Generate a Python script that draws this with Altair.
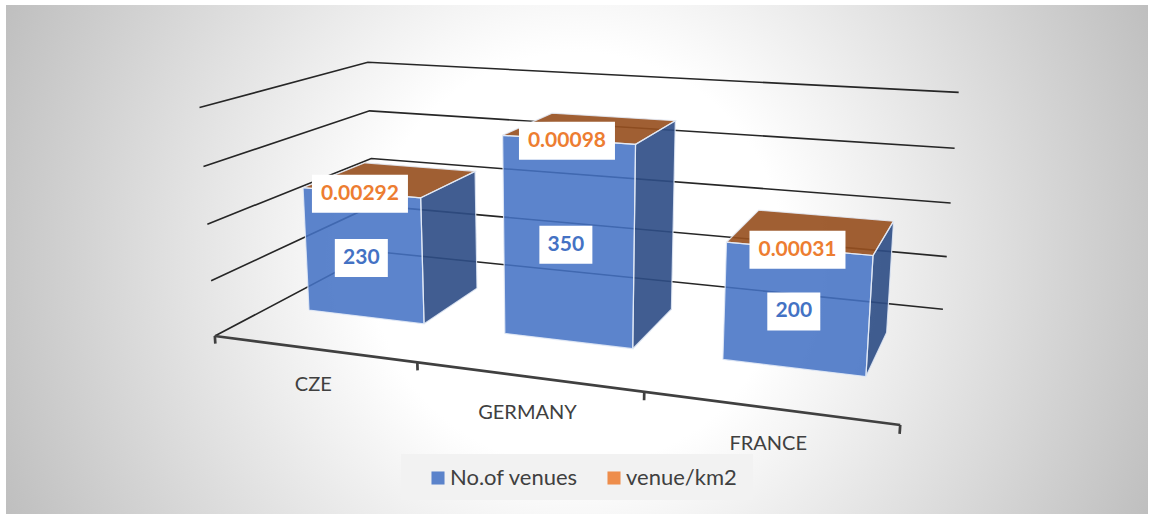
import altair as alt
import numpy as np
import pandas as pd

# Chart content
categories = ["CZE", "GERMANY", "FRANCE"]
venues = [230, 350, 200]
venues_per_km2 = ["0.00292", "0.00098", "0.00031"]
series = ["No.of venues", "venue/km2"]
series_colors = ["#4472C4", "#ED7D31"]
gridlines = [0, 100, 200, 300, 400]

# Scene geometry: u runs along the categories, d into the depth, h up the value axis
CAMERA = np.array([
    [540.2299, 241.4803, -23.7245, 214.8388],
    [20.4262, -29.6788, -233.0805, 336.0318],
    [-0.16123, 0.21812, -0.04214, 1.0],
])
H_MAX = 400
BAR_HALF_WIDTH = 0.1
BAR_DEPTH = (0.315, 0.71)
W, H = 1149, 514


def project(u, d, h):
    v = CAMERA @ np.array([u, d, h / H_MAX, 1.0])
    return float(v[0] / v[2]), float(v[1] / v[2])


def polygon_to_area(points):
    """Turn a convex polygon into x / y / y2 rows for an area mark."""
    rows = []
    edges = list(zip(points, points[1:] + points[:1]))
    for x in sorted({p[0] for p in points}):
        ys = []
        for (x0, y0), (x1, y1) in edges:
            if min(x0, x1) <= x <= max(x0, x1):
                if x0 == x1:
                    ys += [y0, y1]
                else:
                    ys.append(y0 + (y1 - y0) * (x - x0) / (x1 - x0))
        rows.append({"x": x, "y": min(ys), "y2": max(ys)})
    return rows


face_rows, shade_rows, edge_rows, box_rows, label_rows, cat_rows = [], [], [], [], [], []
for i, (cat, value, density) in enumerate(zip(categories, venues, venues_per_km2)):
    uc = (i + 0.5) / len(categories)
    u0, u1 = uc - BAR_HALF_WIDTH, uc + BAR_HALF_WIDTH
    d0, d1 = BAR_DEPTH
    faces = {
        "side": ([(u1, d0, 0), (u1, d1, 0), (u1, d1, value), (u1, d0, value)], series[0], 0.29),
        "front": ([(u0, d0, 0), (u1, d0, 0), (u1, d0, value), (u0, d0, value)], series[0], 0),
        "top": ([(u0, d0, value), (u1, d0, value), (u1, d1, value), (u0, d1, value)], series[1], 0.33),
    }
    for name, (corners, ser, shade) in faces.items():
        pts = [project(*c) for c in corners]
        key = f"{cat}-{name}"
        for row in polygon_to_area(pts):
            face_rows.append({**row, "face": key, "series": ser})
            if shade:
                shade_rows.append({**row, "face": key, "shade": shade})
        for k, p in enumerate(pts + pts[:1]):
            edge_rows.append({"x": p[0], "y": p[1], "face": key, "k": k})

    # Labels sit on the middle of the front face and on its top edge
    cx, cy = project(uc, d0, value / 2)
    cx, cy = cx - 2, cy + 2.5
    label_rows.append({"x": cx, "y": cy, "text": str(value), "series": series[0]})
    box_rows.append({"x": cx - 26.5, "x2": cx + 26.5, "y": cy - 19, "y2": cy + 19})
    tx, ty = project(uc, d0, value)
    tx, ty = tx - 1, ty + 1
    label_rows.append({"x": tx, "y": ty, "text": density, "series": series[1]})
    box_rows.append({"x": tx - 48, "x2": tx + 48, "y": ty - 19, "y2": ty + 19})

    ax, ay = project(uc, 0, 0)
    cat_rows.append({"x": ax, "y": ay, "text": cat})

grid_rows = []
for level in gridlines:
    for k, (u, d) in enumerate([(0, 0), (0, 1), (1, 1)]):
        x, y = project(u, d, level)
        grid_rows.append({"x": x, "y": y, "level": level, "k": k})

axis_rows = [dict(zip(("x", "y"), project(u, 0, 0)), k=k, tick="axis") for k, u in enumerate([0, 1])]
for n in range(4):
    for k, h in enumerate([0, -14]):
        axis_rows.append(dict(zip(("x", "y"), project(n / 3, 0, h)), k=k, tick=f"t{n}"))

sx = alt.Scale(domain=[0, W], range=[0, W], nice=False, zero=False)
sy = alt.Scale(domain=[0, H], range=[0, H], nice=False, zero=False)
X = alt.X("x:Q", scale=sx, axis=None)
Y = alt.Y("y:Q", scale=sy, axis=None)
Y_AREA = alt.Y("y:Q", scale=sy, axis=None, stack=None)

# Radial backdrop, built on a square so the gradient stays circular
backdrop = alt.Chart(pd.DataFrame([{"x": 3, "x2": 1152, "y": -315, "y2": 834}])).mark_rect(
    clip=True,
    fill={
        "gradient": "radial",
        "x1": 0.5, "y1": 0.5, "x2": 0.5, "y2": 0.5, "r1": 0, "r2": 0.6,
        "stops": [
            {"offset": 0, "color": "#ffffff"},
            {"offset": 0.3, "color": "#ffffff"},
            {"offset": 1, "color": "#b5b5b5"},
        ],
    },
).encode(x=X, x2="x2:Q", y=Y, y2="y2:Q")

margins = alt.Chart(pd.DataFrame([
    {"x": 0, "x2": 6, "y": 0, "y2": H},
    {"x": 0, "x2": W, "y": 0, "y2": 5},
    {"x": 1148, "x2": W, "y": 0, "y2": H},
])).mark_rect(fill="white").encode(x=X, x2="x2:Q", y=Y, y2="y2:Q")

legend_panel = alt.Chart(pd.DataFrame([{"x": 401, "x2": 753, "y": 454, "y2": 500}])).mark_rect(
    fill="#f2f2f2"
).encode(x=X, x2="x2:Q", y=Y, y2="y2:Q")

grid = alt.Chart(pd.DataFrame(grid_rows)).mark_line(color="#262626", strokeWidth=1.6).encode(
    x=X, y=Y, detail="level:N", order="k:Q"
)
axis_line = alt.Chart(pd.DataFrame(axis_rows)).mark_line(color="#404040", strokeWidth=2.7).encode(
    x=X, y=Y, detail="tick:N", order="k:Q"
)

faces_layer = alt.Chart(pd.DataFrame(face_rows)).mark_area(opacity=0.87, orient="vertical").encode(
    x=X,
    y=Y_AREA,
    y2="y2:Q",
    detail="face:N",
    color=alt.Color(
        "series:N",
        scale=alt.Scale(domain=series, range=series_colors),
        legend=alt.Legend(
            title=None,
            orient="none",
            legendX=427,
            legendY=467,
            direction="horizontal",
            symbolType="square",
            symbolSize=170,
            symbolStrokeWidth=0,
            labelFont="Lato",
            labelFontSize=22,
            labelColor="#404040",
            labelOffset=1,
            columnPadding=24,
            padding=0,
        ),
    ),
)
shade_layer = alt.Chart(pd.DataFrame(shade_rows)).mark_area(color="black", orient="vertical").encode(
    x=X,
    y=Y_AREA,
    y2="y2:Q",
    detail="face:N",
    opacity=alt.Opacity("shade:Q", scale=None),
)
edges = alt.Chart(pd.DataFrame(edge_rows)).mark_line(
    color="#e4ebf7", strokeWidth=1.2, opacity=0.85
).encode(x=X, y=Y, detail="face:N", order="k:Q")

boxes = alt.Chart(pd.DataFrame(box_rows)).mark_rect(fill="white").encode(
    x=X, x2="x2:Q", y=Y, y2="y2:Q"
)
labels = alt.Chart(pd.DataFrame(label_rows)).mark_text(
    font="Lato", fontSize=21, fontWeight="bold"
).encode(
    x=X,
    y=Y,
    text="text:N",
    color=alt.Color("series:N", scale=alt.Scale(domain=series, range=series_colors), legend=None),
)
cat_labels = alt.Chart(pd.DataFrame(cat_rows)).mark_text(
    font="Lato", fontSize=20, color="#404040", dy=36
).encode(x=X, y=Y, text="text:N")

chart = alt.layer(
    backdrop, margins, legend_panel, grid, axis_line, faces_layer, shade_layer, edges, boxes,
    labels, cat_labels
).properties(
    width=W, height=H, padding=0, autosize=alt.AutoSizeParams(type="none")
).configure_view(stroke=None)

chart.save("out.html", embed_options={"renderer": "svg", "actions": False})
